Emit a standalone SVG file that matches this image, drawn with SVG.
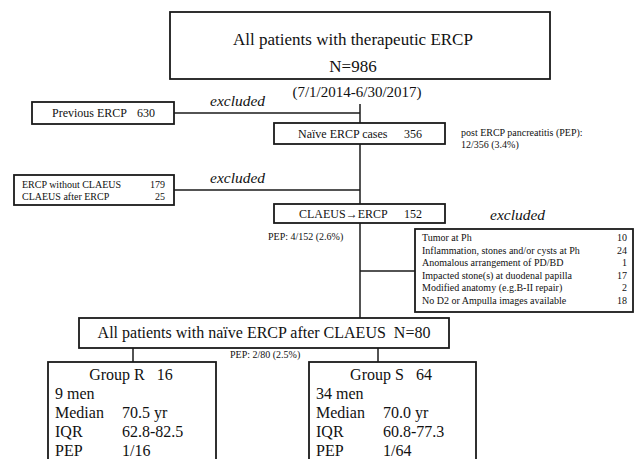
<svg xmlns="http://www.w3.org/2000/svg" width="636" height="459" viewBox="0 0 636 459">
<style>
  .box { fill: #fff; stroke: #1a1a1a; stroke-width: 1.8; }
  .ln { fill: none; stroke: #1a1a1a; stroke-width: 1.5; }
  text { font-family: "Liberation Serif", "Times New Roman", serif; fill: #111; }
  .t17 { font-size: 17px; }
  .t16 { font-size: 16px; }
  .t15 { font-size: 15px; }
  .t12 { font-size: 12px; }
  .t10 { font-size: 10px; }
  .ex { font-size: 15.5px; font-style: italic; }
  .mid { text-anchor: middle; }
  .end { text-anchor: end; }
</style>
<rect width="636" height="459" fill="#fff"/>
<g id="connectors">
  <line class="ln" x1="174" y1="113" x2="360" y2="113"/>
  <line class="ln" x1="360" y1="104" x2="360" y2="123"/>
  <line class="ln" x1="360" y1="144" x2="360" y2="204"/>
  <line class="ln" x1="174" y1="190" x2="360" y2="190"/>
  <line class="ln" x1="360" y1="223" x2="360" y2="318"/>
  <line class="ln" x1="360" y1="271" x2="415" y2="271"/>
  <line class="ln" x1="133" y1="348" x2="133" y2="362"/>
  <line class="ln" x1="378" y1="348" x2="378" y2="362"/>
</g>
<g id="labels">
  <text class="t15 mid" x="357" y="97">(7/1/2014-6/30/2017)</text>
  <text class="ex" x="210" y="106">excluded</text>
  <text class="ex" x="210" y="183">excluded</text>
  <text class="ex" x="490" y="220">excluded</text>
  <text class="t10" x="461" y="136">post ERCP pancreatitis (PEP):</text>
  <text class="t10" x="461" y="148">12/356 (3.4%)</text>
  <text class="t10" x="268" y="240">PEP: 4/152 (2.6%)</text>
  <text class="t10" x="230" y="358">PEP: 2/80 (2.5%)</text>
</g>
<g id="all-patients">
  <rect class="box" x="170" y="12" width="380" height="67"/>
  <text class="t17 mid" x="353" y="45">All patients with therapeutic ERCP</text>
  <text class="t17 mid" x="353" y="72">N=986</text>
</g>
<g id="previous-ercp">
  <rect class="box" x="32" y="102" width="142" height="22"/>
  <text class="t12" x="52" y="117">Previous ERCP</text>
  <text class="t12 end" x="155" y="117">630</text>
</g>
<g id="naive-ercp">
  <rect class="box" x="274" y="123" width="171" height="21"/>
  <text class="t12" x="298" y="138">Naïve ERCP cases</text>
  <text class="t12 end" x="422" y="138">356</text>
</g>
<g id="excluded-claeus">
  <rect class="box" x="14" y="175" width="160" height="30"/>
  <text class="t10" x="22" y="188">ERCP without CLAEUS</text>
  <text class="t10 end" x="165" y="188">179</text>
  <text class="t10" x="22" y="200">CLAEUS after ERCP</text>
  <text class="t10 end" x="165" y="200">25</text>
</g>
<g id="claeus-ercp">
  <rect class="box" x="274" y="204" width="171" height="19"/>
  <text class="t12" x="299" y="218">CLAEUS→ERCP</text>
  <text class="t12 end" x="422" y="218">152</text>
</g>
<g id="excluded-reasons">
  <rect class="box" x="415" y="229" width="218" height="83"/>
  <text class="t10" x="422" y="241">Tumor at Ph</text>
  <text class="t10 end" x="627" y="241">10</text>
  <text class="t10" x="422" y="253.5">Inflammation, stones and/or cysts at Ph</text>
  <text class="t10 end" x="627" y="253.5">24</text>
  <text class="t10" x="422" y="266">Anomalous arrangement of PD/BD</text>
  <text class="t10 end" x="627" y="266">1</text>
  <text class="t10" x="422" y="278.5">Impacted stone(s) at duodenal papilla</text>
  <text class="t10 end" x="627" y="278.5">17</text>
  <text class="t10" x="422" y="291">Modified anatomy (e.g.B-II repair)</text>
  <text class="t10 end" x="627" y="291">2</text>
  <text class="t10" x="422" y="303.5">No D2 or Ampulla images available</text>
  <text class="t10 end" x="627" y="303.5">18</text>
</g>
<g id="naive-after-claeus">
  <rect class="box" x="79" y="318" width="370" height="30"/>
  <text class="t16 mid" x="264" y="338" xml:space="preserve">All patients with naïve ERCP after CLAEUS  N=80</text>
</g>
<g id="group-r">
  <rect class="box" x="48" y="362" width="168" height="110"/>
  <text class="t16 mid" x="131" y="380" xml:space="preserve">Group R   16</text>
  <text class="t16" x="55" y="399">9 men</text>
  <text class="t16" x="55" y="418">Median</text>
  <text class="t16" x="122" y="418">70.5 yr</text>
  <text class="t16" x="55" y="437">IQR</text>
  <text class="t16" x="122" y="437">62.8-82.5</text>
  <text class="t16" x="55" y="456">PEP</text>
  <text class="t16" x="122" y="456">1/16</text>
</g>
<g id="group-s">
  <rect class="box" x="309" y="362" width="167" height="110"/>
  <text class="t16 mid" x="391" y="380" xml:space="preserve">Group S   64</text>
  <text class="t16" x="316" y="399">34 men</text>
  <text class="t16" x="316" y="418">Median</text>
  <text class="t16" x="383" y="418">70.0 yr</text>
  <text class="t16" x="316" y="437">IQR</text>
  <text class="t16" x="383" y="437">60.8-77.3</text>
  <text class="t16" x="316" y="456">PEP</text>
  <text class="t16" x="383" y="456">1/64</text>
</g>
</svg>
